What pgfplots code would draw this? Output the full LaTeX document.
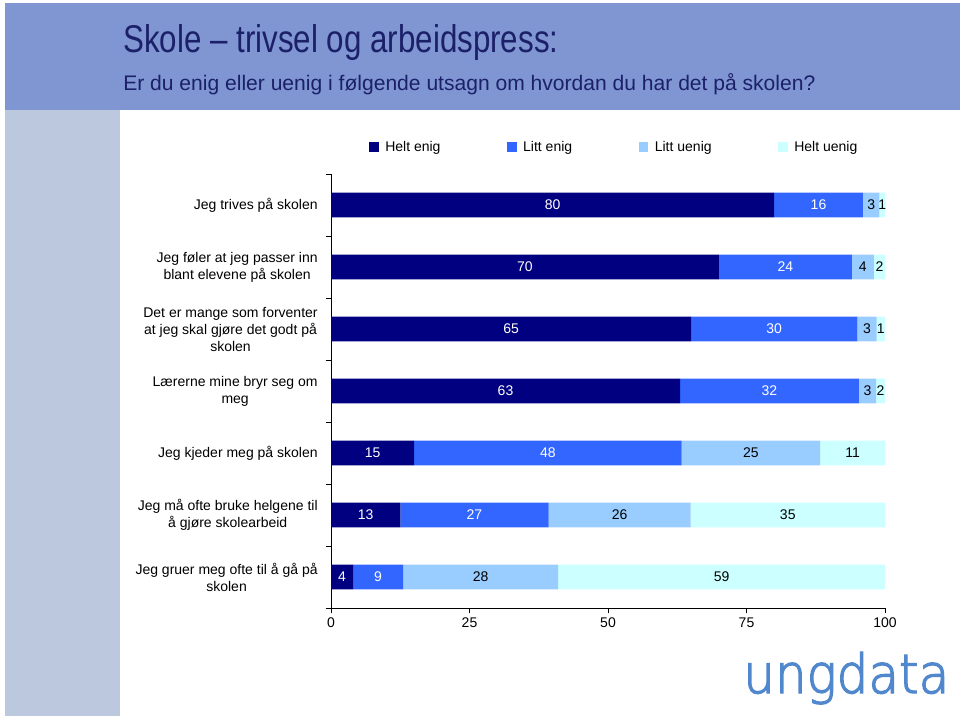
\documentclass[border=0pt]{standalone}
\usepackage{fontspec}
\setmainfont{Liberation Sans}
\newfontfamily\logofont{DejaVu Sans ExtraLight}[FakeBold=2.5]
\usepackage{graphicx}
\usepackage{pgfplots}
\pgfplotsset{compat=1.18}
\definecolor{hdr}{RGB}{127,150,211}
\definecolor{side}{RGB}{188,200,222}
\definecolor{ttl}{RGB}{28,32,105}
\definecolor{c1}{RGB}{0,0,128}
\definecolor{c2}{RGB}{51,102,255}
\definecolor{c3}{RGB}{153,204,255}
\definecolor{c4}{RGB}{204,255,255}
\definecolor{logo}{RGB}{80,135,205}
\pgfplotsset{sqleg/.style={legend image code/.code={\fill[##1] (0bp,-3.5bp) rectangle (7bp,3.5bp);}}}
\begin{document}
\begin{tikzpicture}
\useasboundingbox (0,0) rectangle (720bp,-537bp);
\fill[white] (0,0) rectangle (720bp,-537bp);
\begin{scope}[x=0.75bp,y=-0.75bp]
\fill[hdr] (5,3) rectangle (960,110);
\fill[side] (5,110) rectangle (120,716);
\node[anchor=base west, text=ttl, inner sep=0] at (123,52) {\scalebox{0.81}[1]{\fontsize{29bp}{32bp}\selectfont Skole – trivsel og arbeidspress:}};
\node[anchor=base west, text=ttl, inner sep=0] at (123,90) {\fontsize{15.8bp}{18bp}\selectfont Er du enig eller uenig i følgende utsagn om hvordan du har det på skolen?};
\node[anchor=base west, text=logo, inner sep=0] at (743,693) {\scalebox{1}[1.08]{\fontsize{37.5bp}{40bp}\logofont ungdata}};
\end{scope}
\begin{axis}[
  at={(248.25bp,-456bp)}, anchor=south west,
  scale only axis, width=415.5bp, height=325.5bp,
  xbar stacked, bar width=0.4,
  xmin=0, xmax=100, ymin=-0.5, ymax=6.5, y dir=reverse,
  axis x line*=bottom, axis y line*=left,
  axis line style={black, line width=0.6pt},
  xtick={0,25,50,75,100},
  ytick={0,...,6},
  minor ytick={-0.5,0.5,...,6.5},
  every major y tick/.append style={draw=none},
  tick align=outside, major tick length=4bp, minor tick length=4bp,
  tick style={black, line width=0.6pt},
  yticklabels={{Jeg trives på skolen},{Jeg føler at jeg passer inn\\blant elevene på skolen},{Det er mange som forventer\\at jeg skal gjøre det godt på\\skolen},{Lærerne mine bryr seg om\\meg},{Jeg kjeder meg på skolen},{Jeg må ofte bruke helgene til\\å gjøre skolearbeid},{Jeg gruer meg ofte til å gå på\\skolen}},
  yticklabel style={align=center, xshift=-2.5bp, font=\fontsize{10.5bp}{12.75bp}\selectfont},
  xticklabel style={font=\fontsize{10.5bp}{12.75bp}\selectfont},
  /pgf/number format/assume math mode=true,
  clip=false,
  legend style={at={(0.512,1.062)}, anchor=center, draw=none, fill=none, legend columns=4,
    font=\fontsize{10.5bp}{12.75bp}\selectfont,
    /tikz/every even column/.append style={column sep=48bp},
    /tikz/every odd column/.append style={column sep=3bp}},
  nodes near coords, point meta=explicit symbolic,
  every node near coord/.append style={anchor=center, font=\fontsize{10.5bp}{12.75bp}\selectfont},
]
\addplot[fill=c1, draw=none, sqleg, every node near coord/.append style={text=white}] coordinates {(80,0) [80] (70,1) [70] (65,2) [65] (63,3) [63] (15,4) [15] (12.5,5) [13] (4,6) [4]};
\addplot[fill=c2, draw=none, sqleg, every node near coord/.append style={text=white}] coordinates {(16,0) [16] (24,1) [24] (30,2) [30] (32.3,3) [32] (48.3,4) [48] (26.8,5) [27] (9,6) [9]};
\addplot[fill=c3, draw=none, sqleg, every node near coord/.append style={text=black}] coordinates {(3,0) [3] (4,1) [4] (3.5,2) [3] (3.1,3) [3] (25,4) [25] (25.6,5) [26] (28,6) [28]};
\addplot[fill=c4, draw=none, sqleg, every node near coord/.append style={text=black}] coordinates {(1,0) [1] (2,1) [2] (1.5,2) [1] (1.6,3) [2] (11.7,4) [11] (35.1,5) [35] (59,6) [59]};
\legend{Helt enig, Litt enig, Litt uenig, Helt uenig}
\end{axis}
\end{tikzpicture}
\end{document}
